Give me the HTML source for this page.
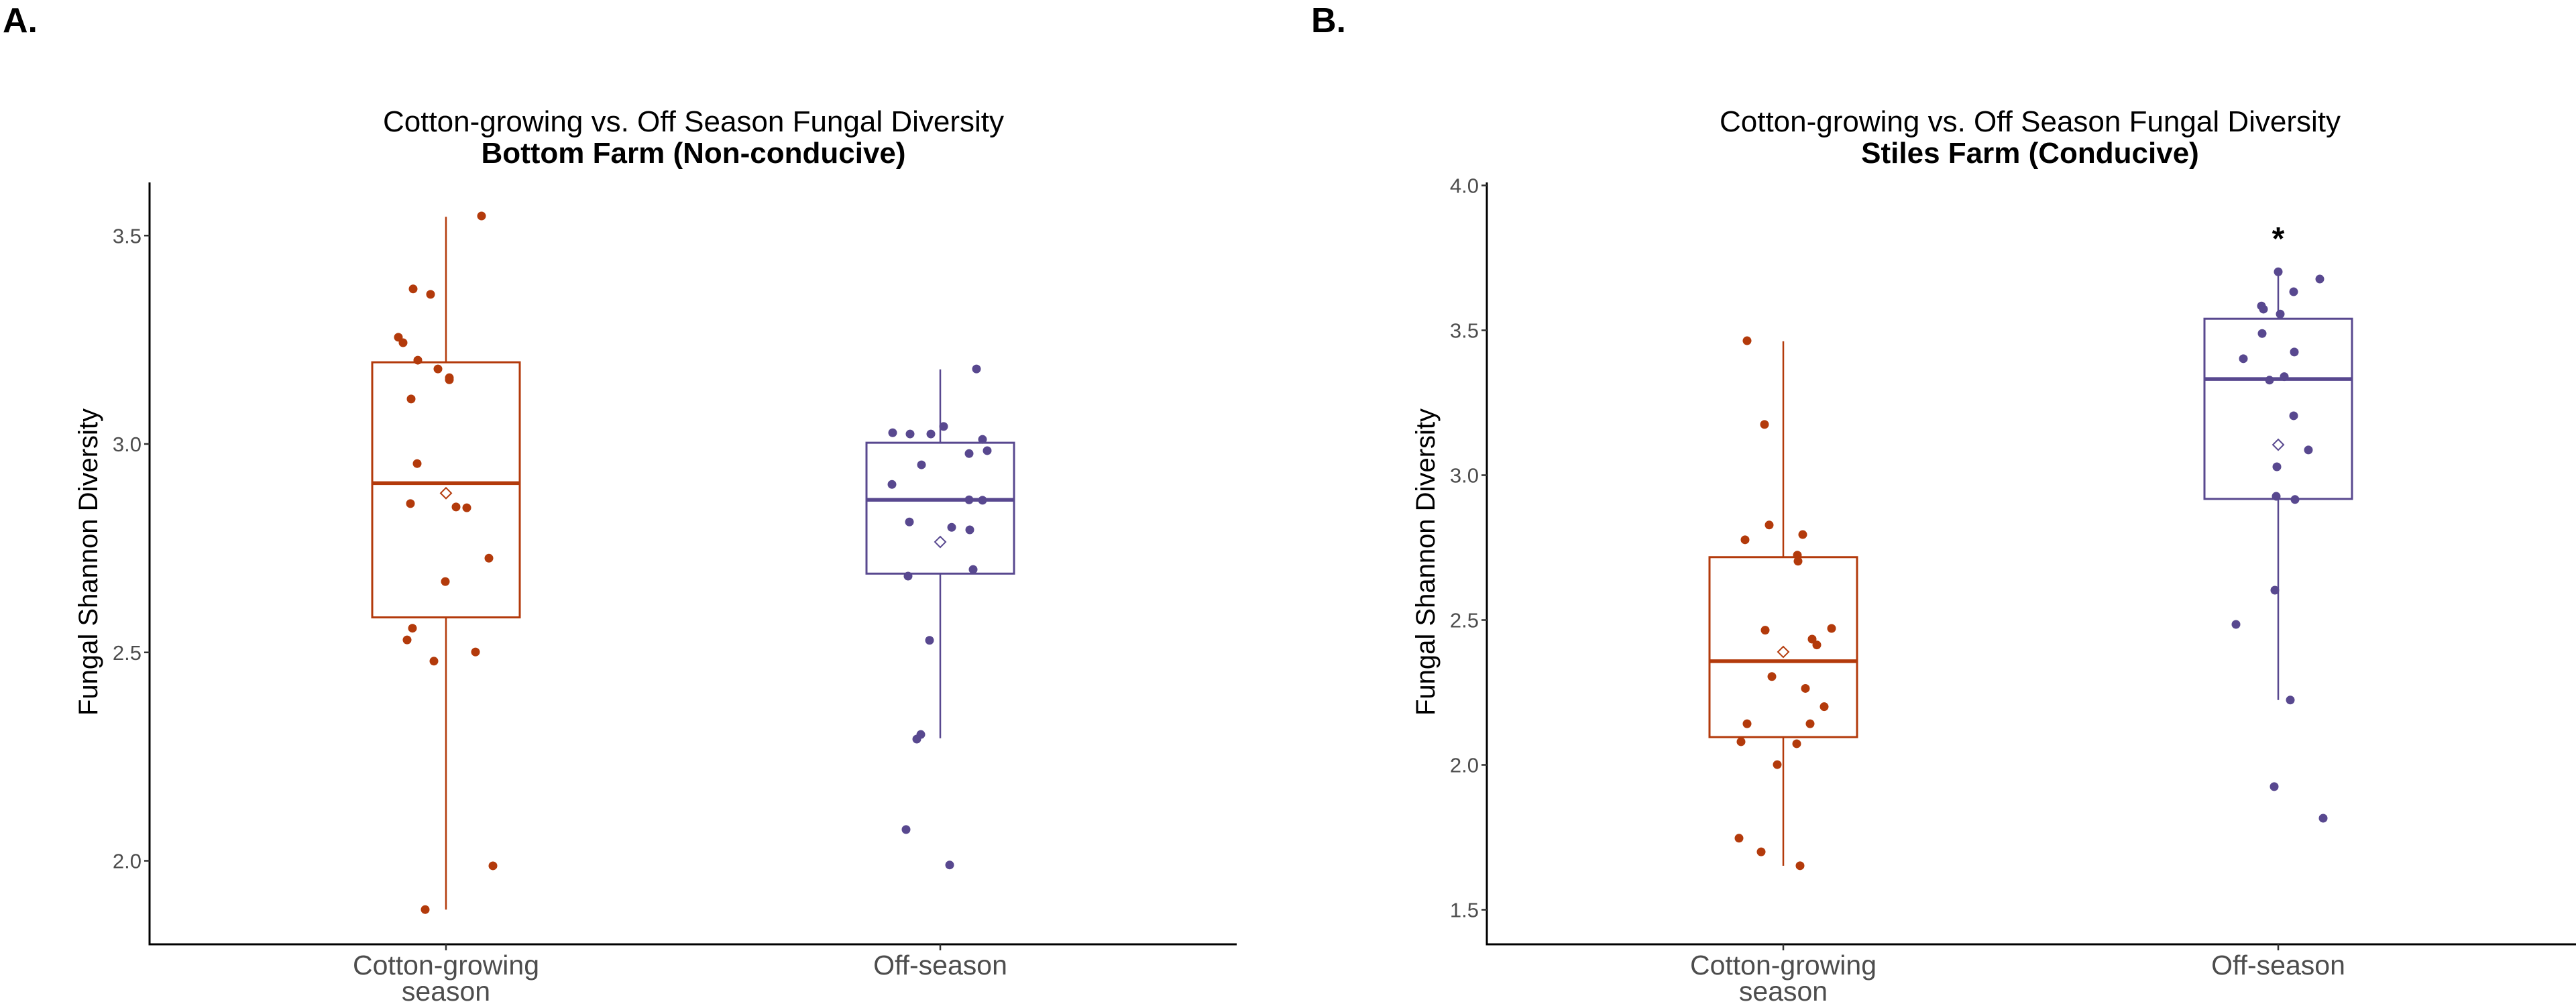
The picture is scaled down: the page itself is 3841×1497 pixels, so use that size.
<!DOCTYPE html>
<html><head><meta charset="utf-8">
<style>
html,body{margin:0;padding:0;background:#fff;}
svg{display:block;font-family:"Liberation Sans",sans-serif;}
</style></head>
<body>
<svg id="fig" width="3841" height="1497" viewBox="0 0 3841 1497" xmlns="http://www.w3.org/2000/svg">
<rect width="3841" height="1497" fill="#fff"/>
</svg>
<script>
// ---- data ----
const categories = ["Cotton-growing season", "Off-season"];
const ticksA = [2.0, 2.5, 3.0, 3.5];
const ticksB = [1.5, 2.0, 2.5, 3.0, 3.5, 4.0];
// box stats: [whiskerLow, q1, median, q3, whiskerHigh, mean]
const statsA1 = [1.883, 2.584, 2.906, 3.196, 3.545, 2.882];
const statsA2 = [2.294, 2.689, 2.866, 3.003, 3.179, 2.765];
const statsB1 = [1.652, 2.096, 2.358, 2.717, 3.462, 2.390];
const statsB2 = [2.224, 2.918, 3.332, 3.540, 3.702, 3.105];
const valuesA1 = [3.547,3.372,3.359,3.256,3.243,3.201,3.180,3.159,3.154,3.108,2.953,2.857,2.849,2.847,2.726,2.670,2.558,2.530,2.501,2.479,1.988,1.883];
const jitterA1 = [53,-49,-23,-71,-64,-42,-12,5,5,-52,-43,-53,15,31,64,-1,-50,-58,44,-18,70,-31];
const valuesA2 = [3.180,3.027,3.024,3.024,3.042,3.011,2.984,2.977,2.950,2.903,2.866,2.865,2.813,2.800,2.794,2.699,2.683,2.529,2.303,2.292,2.075,1.990];
const jitterA2 = [54,-71,-45,-14,5,63,70,43,-28,-72,43,63,-46,17,44,49,-48,-16,-29,-35,-51,14];
const valuesB1 = [3.464,3.175,2.828,2.777,2.795,2.724,2.703,2.465,2.471,2.434,2.414,2.305,2.264,2.201,2.142,2.142,2.080,2.073,2.001,1.747,1.700,1.652];
const jitterB1 = [-54,-28,-21,-57,29,21,22,-27,72,43,50,-17,33,61,-54,40,-63,20,-9,-66,-33,25];
const valuesB2 = [3.702,3.677,3.633,3.584,3.573,3.556,3.489,3.425,3.402,3.340,3.328,3.205,3.087,3.029,2.927,2.916,2.603,2.485,2.224,1.925,1.816];
const jitterB2 = [0,62,23,-25,-22,3,-24,24,-52,9,-13,23,45,-2,-3,25,-5,-63,18,-6,67];

const NS = "http://www.w3.org/2000/svg";
const svg = document.getElementById('fig');
const COLORS = ["#B33A0B", "#58488F"];
function mk(tag, attrs, parent){const e=document.createElementNS(NS,tag);for(const k in attrs)e.setAttribute(k,attrs[k]);(parent||svg).appendChild(e);return e;}

function panel(o){
  const g = mk('g',{});
  
  
  const y = v => o.y0 - (v - o.v0) * o.ppu;
  const x = i => o.cx[i];
  // panel letter
  const lt = mk('text',{x:o.letterX,y:48,'font-size':52,'font-weight':'bold',fill:'#000'},g);
  lt.textContent = o.letter;
  
  
  // titles
  const t1 = mk('text',{x:o.titleX,y:196,'font-size':44,'text-anchor':'middle',fill:'#000'},g);
  t1.textContent = "Cotton-growing vs. Off Season Fungal Diversity";
  
  
  const t2 = mk('text',{x:o.titleX,y:243,'font-size':44,'font-weight':'bold','text-anchor':'middle',fill:'#000'},g);
  t2.textContent = o.subtitle;
  
  
  // y-axis title
  const yt = mk('text',{x:0,y:0,'font-size':40,'text-anchor':'middle',fill:'#000',transform:`translate(${o.ytX},838) rotate(-90)`},g);
  yt.textContent = "Fungal Shannon Diversity";
  
  
  // axes
  const ya = mk('line',{x1:o.ax,y1:272,x2:o.ax,y2:1409,stroke:'#000','stroke-width':3},g);
  
  
  const xa = mk('line',{x1:o.ax-1.5,y1:1408,x2:o.axEnd,y2:1408,stroke:'#000','stroke-width':3},g);
  
  
  o.ticks.forEach(t=>{
    const tk = mk('line',{x1:o.ax-8,y1:y(t),x2:o.ax,y2:y(t),stroke:'#333','stroke-width':2.5},g);
    
    
    const tl = mk('text',{x:o.ax-12,y:y(t)+11,'font-size':31,'text-anchor':'end',fill:'#4d4d4d'},g);
    tl.textContent = t.toFixed(1);
    
    
  });
  categories.forEach((c,i)=>{
    const tk = mk('line',{x1:x(i),y1:1408,x2:x(i),y2:1417,stroke:'#333','stroke-width':2.5},g);
    
    
    const tl = mk('text',{x:x(i),'font-size':41,'text-anchor':'middle',fill:'#4d4d4d'},g);
    
    
    if(i===0){
      const a=mk('tspan',{x:x(i),y:1453},tl); a.textContent="Cotton-growing";
      const b=mk('tspan',{x:x(i),y:1492},tl); b.textContent="season";
    } else { tl.setAttribute('y',1453); tl.textContent=c; }
  });
  // boxes
  [o.s1,o.s2].forEach((s,i)=>{
    const col = COLORS[i], cx = x(i), hw = 110;
    const bg = mk('g',{},g);
    
    
    mk('line',{x1:cx,y1:y(s[0]),x2:cx,y2:y(s[1]),stroke:col,'stroke-width':2.5},bg);
    mk('line',{x1:cx,y1:y(s[3]),x2:cx,y2:y(s[4]),stroke:col,'stroke-width':2.5},bg);
    mk('rect',{x:cx-hw,y:y(s[3]),width:2*hw,height:y(s[1])-y(s[3]),fill:'none',stroke:col,'stroke-width':3},bg);
    mk('line',{x1:cx-hw,y1:y(s[2]),x2:cx+hw,y2:y(s[2]),stroke:col,'stroke-width':5.5},bg);
    const my=y(s[5]);
    const d = mk('polygon',{points:`${cx},${my-8} ${cx+8},${my} ${cx},${my+8} ${cx-8},${my}`,fill:'#fff',stroke:col,'stroke-width':2},bg);
    
    
  });
  // points
  [[o.v1,o.j1],[o.v2,o.j2]].forEach(([vals,jit],i)=>{
    vals.forEach((v,k)=>{
      const p = mk('circle',{cx:x(i)+jit[k],cy:y(v),r:6.5,fill:COLORS[i]},g);
      
      
    });
  });
  if(o.star){
    const st = mk('text',{x:x(1),y:y(o.star)+22,'font-size':48,'font-weight':'bold','text-anchor':'middle',fill:'#000'},g);
    st.textContent = "*";
    
    
  }
}

panel({name:'panel-a',letter:'A.',letterX:4,subtitle:'Bottom Farm (Non-conducive)',titleX:1034,ytX:145,
  ax:223,axEnd:1844,cx:[665,1402],y0:662,v0:3.0,ppu:621.5,ticks:ticksA,
  s1:statsA1,s2:statsA2,v1:valuesA1,j1:jitterA1,v2:valuesA2,j2:jitterA2});
panel({name:'panel-b',letter:'B.',letterX:1955,subtitle:'Stiles Farm (Conducive)',titleX:3027,ytX:2139,
  ax:2217,axEnd:3841,cx:[2659,3397],y0:708.5,v0:3.0,ppu:432,ticks:ticksB,
  s1:statsB1,s2:statsB2,v1:valuesB1,j1:jitterB1,v2:valuesB2,j2:jitterB2,star:3.83});
</script>
</body></html>
